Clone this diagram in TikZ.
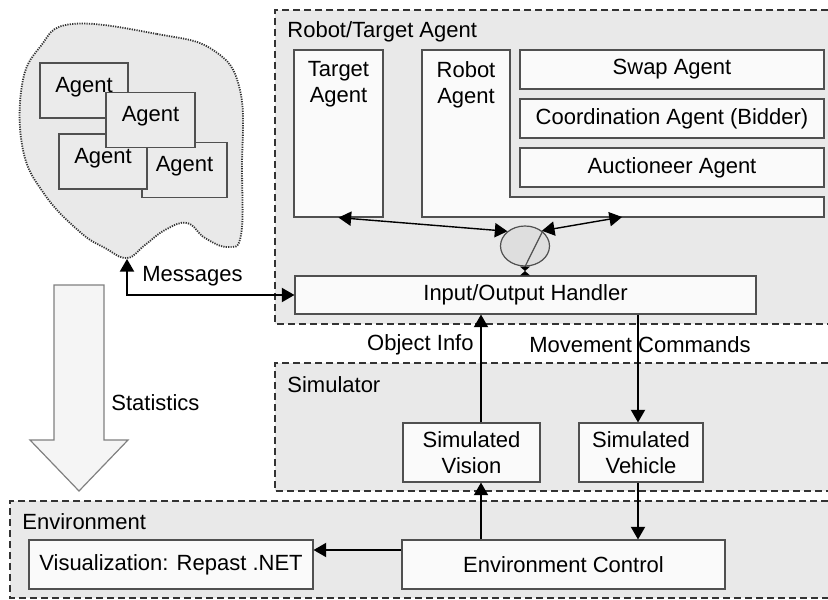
\documentclass[tikz,border=0pt]{standalone}
\usepackage{fontspec}
\setmainfont{Liberation Sans}
\usetikzlibrary{arrows}
\usetikzlibrary{calc}
\usetikzlibrary{shapes}

\definecolor{regiongray}{HTML}{E9E9E9}
\definecolor{boxwhite}{HTML}{FAFAFA}
\definecolor{linegray}{HTML}{505050}

\begin{document}
\begin{tikzpicture}[x=0.5pt, y=-0.5pt, font=\fontsize{11}{13}\selectfont]

  \useasboundingbox (0,0) rectangle (828,599);

  \path
    coordinate (rtl) at (275,10)
    coordinate (rbr) at (828,324)
    coordinate (stl) at (275,363)
    coordinate (sbr) at (828,491)
    coordinate (etl) at (10,501)
    coordinate (ebr) at (828,598)
    ;

  % Regions (open on the right)
  \tikzset{regionstyle/.style = {draw=black!80, dash pattern=on 3.5pt off 2pt, line width=0.9pt}}
  \fill [regiongray] (rtl) rectangle (rbr);
  \fill [regiongray] (stl) rectangle (sbr);
  \fill [regiongray] (etl) rectangle (ebr);
  \path [regionstyle] (rtl -| rbr) -| (rtl) |- (rbr);
  \path [regionstyle] (stl -| sbr) -| (stl) |- (sbr);
  \path [regionstyle] (etl -| ebr) -| (etl) |- (ebr);

  \tikzset{labelstyle/.style = {anchor=west, inner sep=0pt}}
  \node [labelstyle] (RTLabel) at (287,32) {Robot/Target Agent};
  \node [labelstyle] (SimLabel) at (287,385) {Simulator};
  \node [labelstyle] (EnvLabel) at (22,522) {Environment};

  % Agent cloud
  \draw [black!80, dash pattern=on 0.6pt off 0.6pt, line width=0.9pt, fill=regiongray]
    plot [smooth cycle, tension=0.7] coordinates {(72,24) (157,34) (213,50) (240,90) (242,170) (241,235) (228,247) (205,238) (187,223) (165,230) (145,245) (127,258) (105,248) (80,232) (45,195) (23,150) (22,85) (40,47)};
  \coordinate (CloudTip) at (127,259);

  \tikzset{agentstyle/.style = {draw=linegray, fill=black!8, line width=0.6pt, minimum height=27.5pt, text depth=6pt, inner sep=0pt}}
  \node [agentstyle, minimum width=44pt] (AgentA) at (84,90.5) {Agent};
  \node [agentstyle, minimum width=42.5pt] (AgentD) at (184.5,170) {Agent};
  \node [agentstyle, minimum width=44pt] (AgentC) at (103,161.5) {Agent};
  \node [agentstyle, minimum width=44.5pt] (AgentB) at (150.5,120) {Agent};

  % Statistics block arrow
  \draw [draw=black!50, fill=black!4, line width=0.6pt]
    (54,285) -- (104,285) -- (104,440) -- (128,440) -- (79,491) -- (30,440) -- (54,440) -- cycle;

  % Boxes
  \tikzset{boxstyle/.style = {draw=linegray, fill=boxwhite, shape=rectangle, line width=0.6pt, inner sep=0pt, align=center}}

  \node [boxstyle, minimum width=44.5pt, minimum height=83.5pt,
         label={[align=center, anchor=north, inner sep=0pt, yshift=-6pt]north:Target\\Agent}] (Target) at (338.5,133.5) {};

  \draw [draw=linegray, fill=boxwhite, line width=0.6pt]
    (422,50) -- (510,50) -- (510,197) -- (824,197) -- (824,217) -- (422,217) -- cycle;
  \coordinate (RobotBottom) at (622,217);
  \node [anchor=north, align=center, inner sep=0pt] (Robot) at (466,61) {Robot\\Agent};

  \node [boxstyle, minimum width=152pt, minimum height=19.5pt] (Swap) at (672,69.5) {Swap Agent};
  \node [boxstyle, minimum width=152pt, minimum height=19.5pt] (Coord) at (672,118.5) {Coordination Agent (Bidder)};
  \node [boxstyle, minimum width=152pt, minimum height=19.5pt] (Auction) at (672,167.5) {Auctioneer Agent};

  \node [boxstyle, minimum width=230.5pt, minimum height=19pt] (Handler) at (525.5,295) {Input/Output Handler};

  \node [draw=linegray, fill=black!13, shape=ellipse, line width=0.6pt, minimum width=24.5pt, minimum height=20pt, inner sep=0pt] (Switch) at (525,246) {};
  \draw [linegray, line width=0.6pt] (Switch.40) -- (Switch.south);

  \node [boxstyle, minimum width=68.5pt, minimum height=29.5pt] (Vision) at (471.5,452.5) {Simulated\\Vision};
  \node [boxstyle, minimum width=62pt, minimum height=29.5pt] (Vehicle) at (641,452.5) {Simulated\\Vehicle};

  \node [boxstyle, minimum width=161.5pt, minimum height=24.5pt] (EnvCtrl) at (563.5,564.5) {Environment Control};
  \node [boxstyle, minimum width=142pt, minimum height=24.5pt] (Vis) at (171,564.5) {Visualization: Repast .NET};

  % Connecting arrows
  \tikzset{arrowstyle/.style = {draw, line width=0.7pt, -triangle 60}}
  \tikzset{bothstyle/.style = {draw, line width=0.7pt, triangle 60-triangle 60}}

  \path [bothstyle] (Target.south) -- (Switch.140);
  \path [bothstyle] (RobotBottom) -- (Switch.42);

  % bow tie between switch and handler
  \coordinate (SwitchFoot) at (Switch.south |- Handler.north);
  \coordinate (SwitchMid) at ($(Switch.south)!0.5!(SwitchFoot)$);
  \fill ([xshift=-2.5pt]Switch.south) -- ([xshift=2.5pt]Switch.south) -- (SwitchMid)
        -- ([xshift=2.5pt]SwitchFoot) -- ([xshift=-2.5pt]SwitchFoot) -- (SwitchMid) -- cycle;

  \path [bothstyle] (CloudTip) |- (Handler.west);

  \coordinate (VisionUp) at ([xshift=4.75pt]Vision.north);
  \coordinate (VisionDown) at ([xshift=4.75pt]Vision.south);
  \coordinate (VehicleUp) at ([xshift=-1.5pt]Vehicle.north);
  \coordinate (VehicleDown) at ([xshift=-1.5pt]Vehicle.south);
  \coordinate (EnvLeft) at ([yshift=7.25pt]EnvCtrl.west);

  \path [arrowstyle] (VisionUp) -- (VisionUp |- Handler.south);
  \path [arrowstyle] (VehicleUp |- Handler.south) -- (VehicleUp);
  \path [arrowstyle] (VisionDown |- EnvCtrl.north) -- (VisionDown);
  \path [arrowstyle] (VehicleDown) -- (VehicleDown |- EnvCtrl.north);
  \path [arrowstyle] (EnvLeft) -- (EnvLeft -| Vis.east);

  % Flow labels
  \node [anchor=east, inner sep=0pt] (ObjectInfo) at (474,345) {Object Info};
  \node [inner sep=0pt] (MoveCmd) at (640,345) {Movement Commands};
  \node [labelstyle] (MsgLabel) at (142,276) {Messages};
  \node [labelstyle] (StatLabel) at (111,403) {Statistics};

\end{tikzpicture}
\end{document}
